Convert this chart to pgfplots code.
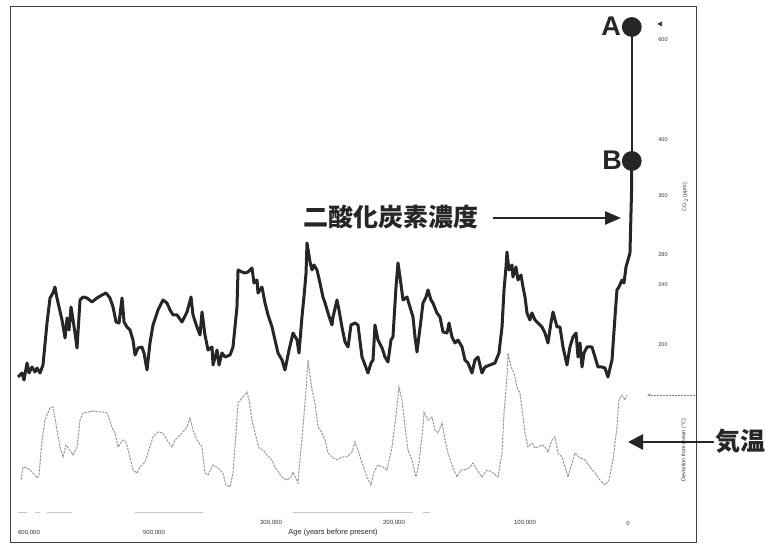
\documentclass[border=0pt]{standalone}
\usepackage{fontspec}
\setmainfont{Liberation Sans}
\newfontfamily\cjk{Noto Sans CJK JP}
\usepackage{pgfplots}
\pgfplotsset{compat=1.18}
\usetikzlibrary{arrows.meta}

\begin{document}
\begin{tikzpicture}[x=1pt,y=1pt]
\useasboundingbox (0,0) rectangle (765,545);
\begin{axis}[at={(11pt,2pt)}, anchor=south west, scale only axis,
  width=685pt, height=536pt,
  xmin=-71.6, xmax=649.5, x dir=reverse, ymin=2, ymax=538,
  xtick=\empty, ytick=\empty,
  axis line style={black!75, line width=1pt}, clip=false,
  unbounded coords=jump]
% faint remnants at the bottom
\addplot[gray!45, line width=0.9pt] coordinates {
(642.1,33) (632.6,33) (nan,nan) (624.2,33) (618.9,33) (nan,nan)
(611.6,33) (585.3,33) (nan,nan) (518.9,33) (447.4,33) (nan,nan)
(352.6,33) (226.3,33) (nan,nan) (215.8,33) (208.4,33)};
% temperature (deviation from mean), plotted in chart units
\addplot[gray!80, line width=1pt, dash pattern=on 2.5pt off 1pt] coordinates {
(638.9,65) (636.8,78) (632.6,77) (629.5,75) (626.3,72) (622.1,67) (620.0,70)
(616.8,105) (613.7,125) (608.4,137) (605.3,138) (601.1,115) (597.9,98) (594.7,88)
(591.6,100) (587.4,95) (584.2,90) (580.0,98) (576.8,125) (573.7,132) (568.4,133)
(563.2,134) (557.9,133) (552.6,133) (548.4,132) (543.2,118) (540.0,112) (536.8,98)
(531.6,105) (528.4,103) (524.2,88) (521.1,75) (516.8,72) (513.7,78) (508.4,83)
(505.3,92) (500.0,108) (494.7,113) (489.5,112) (485.3,105) (480.0,98) (476.8,105)
(469.5,112) (464.2,118) (461.1,127) (457.9,115) (453.7,105) (448.4,98) (445.3,72)
(442.1,70) (436.8,80) (431.6,77) (426.3,72) (423.2,60) (418.9,58) (415.8,72)
(412.6,112) (410.5,142) (405.3,148) (401.1,153) (398.9,145) (395.8,125) (391.6,108)
(388.4,97) (384.2,95) (380.0,90) (374.7,85) (371.6,78) (367.4,72) (363.2,67)
(358.9,65) (354.7,68) (352.6,73) (347.4,62) (345.3,85) (342.1,118) (338.9,155)
(336.8,185) (332.6,155) (329.5,142) (326.3,118) (322.1,112) (318.9,105) (315.8,92)
(311.6,88) (306.3,85) (301.1,88) (295.8,88) (290.5,93) (287.4,103) (284.2,95)
(280.0,82) (274.7,68) (270.5,60) (267.4,73) (263.2,80) (257.9,78) (253.7,75)
(248.4,98) (243.2,138) (241.1,158) (237.9,145) (234.7,118) (231.6,95) (227.4,85)
(223.2,68) (220.0,82) (215.8,118) (214.7,133) (210.5,125) (206.3,128) (203.2,115)
(200.0,112) (195.8,122) (192.6,105) (189.5,92) (185.3,80) (180.0,68) (175.8,75)
(171.6,75) (166.3,78) (163.2,82) (158.9,75) (153.7,68) (148.4,75) (143.2,73)
(136.8,68) (132.6,92) (130.5,132) (127.4,168) (126.3,192) (123.2,178) (120.0,172)
(116.8,158) (113.7,152) (110.5,128) (108.4,112) (105.3,98) (101.1,102) (97.9,97)
(94.7,98) (90.5,100) (87.4,98) (84.2,93) (80.0,105) (76.8,108) (73.7,92)
(69.5,88) (66.3,78) (63.2,68) (58.9,82) (55.8,92) (50.5,87) (45.3,85)
(40.0,78) (34.7,72) (29.5,65) (24.2,60) (20.0,65) (15.8,85) (11.6,118)
(9.5,145) (6.3,150) (3.2,145) (1.1,150)};
% CO2 concentration, plotted in chart units
\addplot[black!85, line width=3pt, line join=round] coordinates {
(642.1,168) (637.9,172) (635.8,165) (632.6,182) (630.5,172) (627.4,178) (624.2,173)
(622.1,177) (618.9,172) (615.8,180) (611.6,222) (608.4,247) (605.3,252) (603.2,258)
(601.1,247) (595.8,225) (592.6,207) (590.5,227) (588.4,215) (586.3,238) (584.2,225)
(582.1,212) (580.0,197) (576.8,245) (573.7,248) (569.5,247) (564.2,243) (558.9,247)
(553.7,250) (549.5,252) (545.3,247) (542.1,238) (538.9,223) (535.8,222) (532.6,247)
(530.5,223) (527.4,218) (524.2,215) (521.1,205) (518.9,190) (515.8,197) (511.6,198)
(509.5,192) (506.3,175) (503.2,202) (500.0,220) (494.7,235) (489.5,245) (485.3,242)
(482.1,235) (478.9,230) (474.7,230) (469.5,223) (464.2,233) (460.0,248) (457.9,230)
(453.7,218) (450.5,210) (448.4,233) (445.3,210) (442.1,195) (437.9,198) (436.8,180)
(432.6,195) (430.5,180) (427.4,192) (424.2,188) (418.9,190) (415.8,198) (411.6,238)
(410.5,275) (406.3,273) (403.2,272) (400.0,273) (395.8,277) (393.7,262) (390.5,265)
(389.5,252) (385.3,258) (382.1,242) (378.9,230) (374.7,218) (371.6,205) (368.4,192)
(364.2,185) (361.1,175) (356.8,195) (352.6,212) (348.4,205) (346.3,192) (343.2,228)
(341.1,248) (338.9,272) (337.9,302) (334.7,283) (332.6,275) (330.5,280) (327.4,275)
(324.2,262) (321.1,248) (318.9,242) (315.8,232) (311.6,220) (310.5,228) (306.3,245)
(304.2,235) (301.1,218) (297.9,203) (294.7,198) (291.6,220) (287.4,222) (284.2,220)
(280.0,188) (276.8,180) (273.7,172) (270.5,182) (268.4,185) (266.3,220) (263.2,205)
(258.9,197) (255.8,188) (252.6,183) (249.5,205) (247.4,208) (244.2,258) (242.1,282)
(240.0,268) (236.8,245) (232.6,248) (229.5,238) (226.3,228) (224.2,208) (222.1,193)
(217.9,225) (215.8,242) (212.6,248) (210.5,255) (207.4,245) (205.3,242) (201.1,232)
(197.9,228) (194.7,213) (190.5,212) (188.4,222) (185.3,208) (182.1,202) (178.9,205)
(174.7,198) (171.6,185) (168.4,182) (164.2,172) (161.1,185) (157.9,188) (153.7,172)
(150.5,178) (145.3,180) (140.0,182) (135.8,192) (132.6,218) (130.5,255) (128.4,278)
(127.4,293) (125.3,275) (122.1,280) (121.1,268) (117.9,278) (115.8,265) (112.6,270)
(110.5,258) (108.4,248) (106.3,232) (103.2,225) (101.1,232) (97.9,225) (94.7,222)
(90.5,218) (87.4,212) (84.2,202) (81.1,222) (78.9,233) (74.7,218) (71.6,218)
(68.4,198) (64.2,180) (61.1,198) (57.9,208) (54.7,212) (52.6,188) (50.5,202)
(48.4,178) (46.3,192) (43.2,198) (37.9,198) (34.7,188) (31.6,178) (27.4,178)
(24.2,177) (21.1,168) (16.8,185) (13.7,228) (11.6,255) (9.5,258) (6.3,265)
(4.2,262) (2.1,278) (0.0,285) (-2.1,292) (-3.7,352) (-4,384)};
% points B (present) and A (projection)
\addplot[black!85, line width=1.8pt, mark=*, mark size=9pt,
  mark options={solid, fill=black!85}] coordinates {(-4,384) (-4,518)};
\end{axis}
% annotations
\node[font={\bfseries\fontsize{27}{27}\selectfont}, text=black!85] at (611,519) {A};
\node[font={\bfseries\fontsize{27}{27}\selectfont}, text=black!85] at (612,385) {B};
\node[font={\cjk\bfseries\fontsize{25}{25}\selectfont}, text=black!85] at (391,328) {二酸化炭素濃度};
\draw[black!85, line width=2.6pt, -{Triangle[length=16pt,width=13pt]}] (493,327) -- (621,327);
\node[font={\cjk\bfseries\fontsize{25}{25}\selectfont}, text=black!85] at (740,104) {気温};
\draw[black!85, line width=2.8pt, -{Triangle[length=15pt,width=15pt]}] (714,103) -- (628,103);
% right-hand scale labels
\begin{scope}[every node/.style={font={\fontsize{5.5}{6}\selectfont}, text=black!80}]
\node at (663,505) {600};
\node at (663,405) {400};
\node at (663,349) {300};
\node at (663,290) {280};
\node at (663,260) {240};
\node at (663,200) {200};
\node[rotate=90] at (685,348) {CO$_2$ (ppm)};
\node[rotate=90] at (684,95) {Deviation from mean (°C)};
\end{scope}
\fill[black!75] (657,521) -- (662,523.5) -- (662,518.5) -- cycle;
\draw[gray, line width=0.6pt, dash pattern=on 2pt off 1pt, -{Stealth[length=4pt,width=3pt]}] (695,150) -- (647,150);
% bottom labels
\begin{scope}[every node/.style={font={\fontsize{6}{7}\selectfont}, text=black!80}]
\node at (29,12) {600,000};
\node at (154,12) {500,000};
\node at (271,22) {300,000};
\node at (394,22) {200,000};
\node at (525,22) {100,000};
\node at (628,22) {0};
\end{scope}
\node[font={\fontsize{7.5}{8}\selectfont}, text=black!85] at (333,12) {Age (years before present)};
\end{tikzpicture}
\end{document}
